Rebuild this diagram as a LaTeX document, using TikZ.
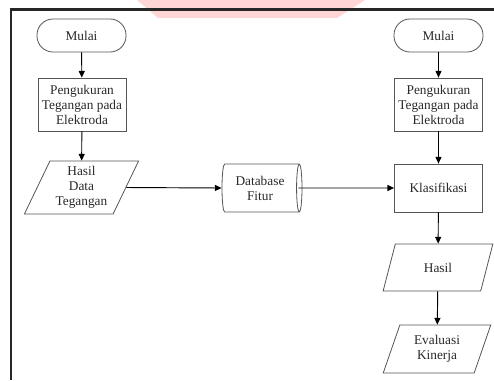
\documentclass[tikz,border=0pt]{standalone}
\usepackage{fontspec}
\setmainfont{Liberation Serif}
\usepackage{tikz}
\usetikzlibrary{shapes.geometric,arrows.meta}
\tikzset{>={Triangle[length=5pt,width=4.5pt]}}
\definecolor{wmpink}{RGB}{255,213,213}
\definecolor{txtgray}{RGB}{40,40,40}
\definecolor{edgegray}{RGB}{85,85,85}
\tikzset{
  base/.style={draw=edgegray,line width=0.6pt,text=txtgray,align=center,
    font=\fontsize{10}{11.3}\selectfont,inner sep=1pt},
  terminal/.style={base,rounded corners=12pt,minimum width=66.75pt,minimum height=24.75pt},
  process/.style={base,rectangle,minimum width=66pt,minimum height=39.75pt},
  iobox/.style={base,trapezium,trapezium stretches=true,trapezium left angle=70,
    trapezium right angle=110,minimum width=82.5pt,minimum height=36pt},
  store/.style={base,cylinder,shape aspect=0.2,minimum height=60pt,minimum width=36pt},
  flow/.style={->,line width=0.7pt,black}
}

\begin{document}
\begin{tikzpicture}[x=0.75pt,y=-0.75pt]
   \useasboundingbox (0,0) rectangle (494,380);
   % watermark and frame
   \fill[wmpink] (137,0)--(365,0)--(337,18)--(158,18)--cycle;
   \draw[line width=1.6pt,black!85] (494,9.5)--(11,9.5)--(11,380);

   % left column
   \node[terminal] at (81.5,35.5) (m1) {Mulai};
   \node[process] at (82,104.5) (u1) {Pengukuran\\Tegangan pada\\Elektroda};
   \node[iobox,trapezium left angle=64,trapezium right angle=116,
     minimum width=86.25pt,minimum height=39.75pt] at (81.5,187.5) (h1) {Hasil\\Data\\Tegangan};

   % middle
   \node[store] at (260,188) (db) {Database\\Fitur};

   % right column
   \node[terminal] at (438.5,35.5) (m2) {Mulai};
   \node[process] at (438.5,104.5) (u2) {Pengukuran\\Tegangan pada\\Elektroda};
   \node[process,minimum height=36pt] at (438.5,188) (kl) {Klasifikasi};
   \node[iobox,minimum height=35.25pt] at (438,267.5) (hs) {Hasil};
   \node[iobox,minimum width=81pt] at (437,349) (ev) {Evaluasi\\Kinerja};

   \draw[flow] (m1)--(u1);
   \draw[flow] (u1)--(h1);
   \draw[flow] (h1.east)--(db.west);
   \draw[flow] ([xshift=-3pt]db.east)--(kl.west);
   \draw[flow] (m2)--(u2);
   \draw[flow] (u2)--(kl);
   \draw[flow] (kl)--(hs);
   \draw[flow] (hs)--(ev);
\end{tikzpicture}
\end{document}
